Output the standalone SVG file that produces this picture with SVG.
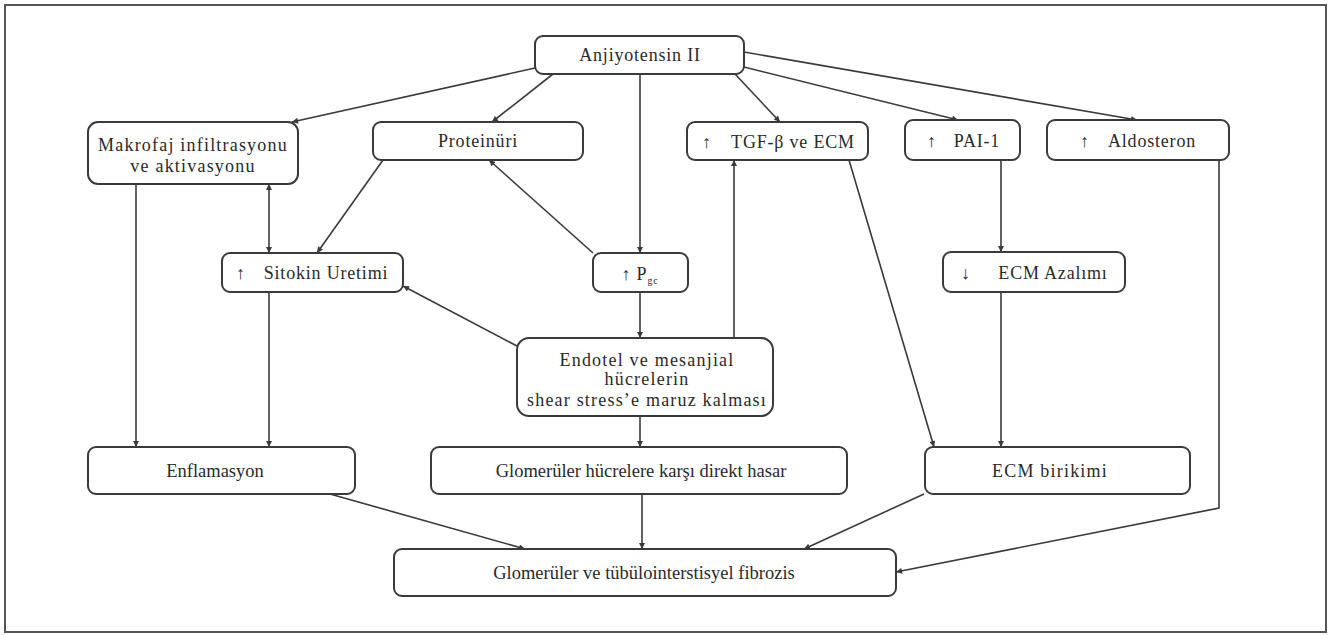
<svg xmlns="http://www.w3.org/2000/svg" width="1333" height="635" viewBox="0 0 1333 635">
<style>
.box{fill:#fff;stroke:#3a3a3a;stroke-width:2}
.t{font-family:"Liberation Serif","Times New Roman",serif;font-size:18px;fill:#2a2a2a;text-anchor:middle;letter-spacing:0.8px}
.tb{font-family:"Liberation Serif","Times New Roman",serif;font-size:18.5px;fill:#2a2a2a;text-anchor:middle}
.c line,.c polyline{stroke:#3a3a3a;stroke-width:1.6;fill:none;marker-end:url(#ah)}
</style>
<defs>
<marker id="ah" viewBox="0 0 10 10" refX="10" refY="5" markerWidth="7" markerHeight="6" markerUnits="userSpaceOnUse" orient="auto-start-reverse">
<path d="M0,0 L10,5 L0,10 z" fill="#3a3a3a"/>
</marker>
</defs>
<rect x="5" y="5" width="1321" height="627" fill="#fff" stroke="#555" stroke-width="2"/>
<g class="c" id="connectors">
<line x1="535" y1="68" x2="292" y2="122"/>
<line x1="553" y1="74" x2="492" y2="122"/>
<line x1="640" y1="74" x2="640" y2="253"/>
<line x1="735" y1="74" x2="780" y2="122"/>
<line x1="744" y1="67" x2="958" y2="120"/>
<line x1="744" y1="52" x2="1137" y2="120"/>
<line x1="136" y1="184" x2="136" y2="447"/>
<line x1="269" y1="219" x2="269" y2="184"/>
<line x1="269" y1="219" x2="269" y2="253"/>
<line x1="383" y1="160" x2="317" y2="253"/>
<line x1="593" y1="253" x2="489" y2="160"/>
<line x1="517" y1="346" x2="403" y2="286"/>
<line x1="269" y1="292" x2="269" y2="447"/>
<line x1="640" y1="292" x2="640" y2="338"/>
<line x1="734" y1="338" x2="734" y2="160"/>
<line x1="849" y1="160" x2="934" y2="447"/>
<line x1="1001" y1="160" x2="1001" y2="252"/>
<line x1="1001" y1="292" x2="1001" y2="447"/>
<line x1="640" y1="416" x2="640" y2="447"/>
<line x1="330" y1="494" x2="525" y2="549"/>
<line x1="642" y1="494" x2="642" y2="549"/>
<line x1="924" y1="494" x2="804" y2="549"/>
<polyline points="1219,160 1219,508 896,572"/>
</g>
<g id="n-anj"><rect class="box" x="535" y="36" width="209" height="38" rx="8"/><text class="t" x="640" y="61">Anjiyotensin II</text></g>
<g id="n-makro"><rect class="box" x="88" y="122" width="210" height="62" rx="10"/><text class="t" x="193" y="151" style="letter-spacing:1.2px">Makrofaj infiltrasyonu</text><text class="t" x="193" y="172" style="letter-spacing:1.2px">ve aktivasyonu</text></g>
<g id="n-prot"><rect class="box" x="373" y="122" width="210" height="38" rx="8"/><text class="t" x="478" y="147">Proteinüri</text></g>
<g id="n-tgf"><rect class="box" x="687" y="122" width="181" height="38" rx="8"/><text class="t" x="707" y="148">↑</text><text class="t" x="793" y="148">TGF-β ve ECM</text></g>
<g id="n-pai"><rect class="box" x="905" y="120" width="115" height="40" rx="8"/><text class="t" x="932" y="147">↑</text><text class="t" x="977" y="147">PAI-1</text></g>
<g id="n-aldo"><rect class="box" x="1047" y="120" width="182" height="40" rx="8"/><text class="t" x="1085" y="147">↑</text><text class="t" x="1152" y="147">Aldosteron</text></g>
<g id="n-sito"><rect class="box" x="222" y="253" width="181" height="39" rx="8"/><text class="t" x="241" y="279">↑</text><text class="t" x="326" y="279">Sitokin Uretimi</text></g>
<g id="n-pgc"><rect class="box" x="593" y="253" width="95" height="39" rx="8"/><text class="t" x="640" y="280">↑ P<tspan font-size="10" dy="4">gc</tspan></text></g>
<g id="n-endo"><rect class="box" x="517" y="338" width="256" height="78" rx="12"/><text class="t" x="647" y="366" style="letter-spacing:1.2px">Endotel ve mesanjial</text><text class="t" x="647" y="385" style="letter-spacing:1.2px">hücrelerin</text><text class="t" x="647" y="406" style="letter-spacing:1.2px">shear stress’e maruz kalması</text></g>
<g id="n-ecmaz"><rect class="box" x="943" y="252" width="182" height="40" rx="8"/><text class="t" x="966" y="279">↓</text><text class="t" x="1053" y="279">ECM Azalımı</text></g>
<g id="n-enfl"><rect class="box" x="88" y="447" width="267" height="47" rx="8"/><text class="tb" x="215" y="477">Enflamasyon</text></g>
<g id="n-glomh"><rect class="box" x="431" y="447" width="416" height="47" rx="8"/><text class="tb" x="641" y="477">Glomerüler hücrelere karşı direkt hasar</text></g>
<g id="n-ecmb"><rect class="box" x="925" y="447" width="265" height="47" rx="8"/><text class="t" x="1050" y="477" style="letter-spacing:1.2px">ECM birikimi</text></g>
<g id="n-fib"><rect class="box" x="394" y="549" width="502" height="47" rx="8"/><text class="tb" x="644" y="579">Glomerüler ve tübülointerstisyel fibrozis</text></g>
</svg>
